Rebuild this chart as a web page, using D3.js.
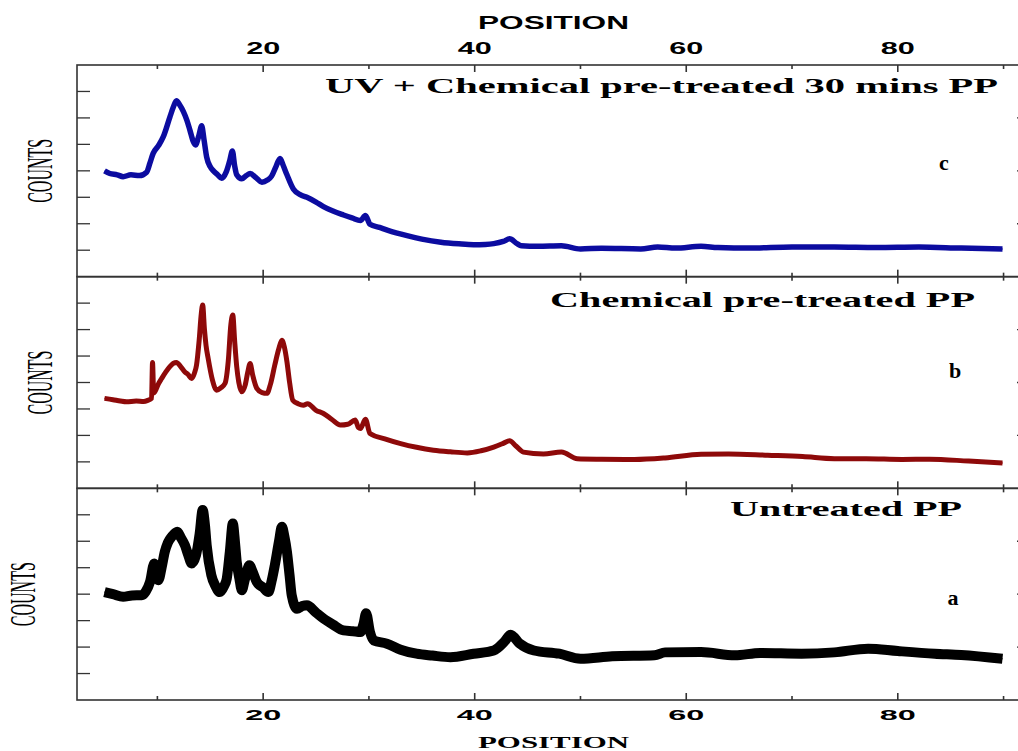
<!DOCTYPE html>
<html>
<head>
<meta charset="utf-8">
<script src="https://cdn.jsdelivr.net/npm/d3@7"></script>
<style>
  body { margin: 0; background: #fff; }
  svg { display: block; }
</style>
</head>
<body>
<div id="chart"></div>
<script>
// [2-theta position, counts]; counts in arbitrary units, 0-8 per panel
var seriesC = [[5.0, 4.0], [5.5, 3.9], [6.2, 3.85], [6.76, 3.78], [7.5, 3.85], [8.3, 3.82], [8.98, 3.95], [9.3, 4.3], [9.6, 4.66], [10.1, 4.95], [10.55, 5.28], [11.18, 6.03], [11.5, 6.4], [11.8, 6.65], [12.1, 6.5], [12.45, 6.25], [12.8, 5.9], [13.08, 5.53], [13.4, 5.1], [13.6, 4.98], [13.9, 5.3], [14.19, 5.7], [14.4, 5.2], [14.66, 4.52], [15.0, 4.15], [15.3, 4.0], [15.7, 3.85], [16.08, 3.72], [16.5, 3.95], [16.85, 4.4], [17.09, 4.75], [17.3, 4.2], [17.5, 3.85], [17.98, 3.7], [18.4, 3.82], [18.77, 3.9], [19.3, 3.75], [19.88, 3.57], [20.4, 3.65], [20.8, 3.8], [21.2, 4.15], [21.6, 4.47], [21.9, 4.2], [22.25, 3.85], [22.87, 3.3], [23.5, 3.1], [24.14, 3.0], [25.0, 2.82], [25.7, 2.65], [26.6, 2.48], [27.6, 2.33], [28.4, 2.22], [29.2, 2.12], [29.67, 2.31], [30.1, 1.98], [31.0, 1.86], [31.8, 1.75], [33.6, 1.55], [35.0, 1.42], [36.8, 1.3], [38.5, 1.24], [39.9, 1.21], [41.0, 1.22], [41.8, 1.25], [42.7, 1.33], [43.3, 1.43], [44.0, 1.25], [44.4, 1.17], [46.0, 1.15], [48.2, 1.17], [50, 1.05], [52, 1.07], [55.7, 1.05], [57.3, 1.12], [59, 1.08], [61.4, 1.15], [63, 1.1], [66, 1.08], [70, 1.12], [74, 1.12], [78, 1.1], [82, 1.12], [86, 1.08], [89.9, 1.05]];

var seriesB = [[5.0, 3.4], [5.8, 3.35], [6.5, 3.3], [7.07, 3.27], [8.0, 3.3], [8.7, 3.28], [9.12, 3.33], [9.45, 3.4], [9.54, 4.76], [9.65, 3.6], [9.76, 3.65], [10.1, 3.95], [10.4, 4.15], [10.8, 4.4], [11.18, 4.6], [11.5, 4.72], [11.8, 4.76], [12.2, 4.6], [12.6, 4.4], [12.9, 4.3], [13.24, 4.15], [13.5, 4.35], [13.7, 4.66], [13.95, 5.6], [14.15, 6.6], [14.28, 6.93], [14.45, 6.0], [14.6, 5.4], [14.8, 4.91], [15.2, 4.1], [15.6, 3.71], [16.0, 3.8], [16.4, 3.97], [16.7, 4.8], [16.95, 6.2], [17.13, 6.55], [17.3, 5.6], [17.5, 4.6], [17.7, 4.0], [17.98, 3.65], [18.3, 3.9], [18.55, 4.4], [18.77, 4.72], [19.0, 4.3], [19.4, 3.78], [19.9, 3.62], [20.35, 3.59], [20.7, 3.95], [21.1, 4.66], [21.5, 5.3], [21.77, 5.6], [22.0, 5.35], [22.25, 4.78], [22.5, 4.0], [22.8, 3.33], [23.3, 3.2], [23.8, 3.14], [24.2, 3.2], [25.0, 2.95], [25.7, 2.83], [26.5, 2.6], [27.3, 2.39], [28.0, 2.42], [28.7, 2.58], [29.0, 2.3], [29.2, 2.26], [29.67, 2.61], [30.1, 2.07], [31.5, 1.87], [33, 1.69], [34.5, 1.55], [36.1, 1.44], [37.7, 1.38], [39.3, 1.34], [40.6, 1.42], [41.8, 1.56], [42.7, 1.7], [43.3, 1.8], [43.9, 1.6], [44.6, 1.37], [46.5, 1.3], [48.2, 1.37], [49.7, 1.12], [52, 1.1], [55.1, 1.09], [58, 1.15], [61.4, 1.29], [64, 1.3], [67.7, 1.25], [71, 1.2], [74, 1.12], [77, 1.12], [80.4, 1.09], [83, 1.1], [86.7, 1.03], [89.9, 0.96]];

var seriesA = [[5.0, 4.08], [5.8, 4.0], [6.76, 3.9], [7.6, 3.95], [8.5, 3.96], [8.9, 4.1], [9.3, 4.46], [9.7, 5.16], [10.1, 4.53], [10.4, 5.0], [10.7, 5.6], [11.0, 5.95], [11.35, 6.17], [11.88, 6.36], [12.2, 6.15], [12.6, 5.85], [12.9, 5.5], [13.24, 5.16], [13.65, 5.47], [14.0, 6.3], [14.28, 7.18], [14.5, 6.6], [14.66, 5.85], [15.1, 4.72], [15.5, 4.3], [15.9, 4.08], [16.3, 4.3], [16.56, 4.59], [16.85, 5.6], [17.13, 6.67], [17.35, 5.9], [17.5, 5.22], [17.75, 4.6], [17.98, 4.15], [18.3, 4.6], [18.7, 5.09], [19.0, 4.85], [19.4, 4.46], [20.0, 4.25], [20.5, 4.08], [20.8, 4.5], [21.1, 5.09], [21.5, 6.0], [21.77, 6.55], [22.0, 6.2], [22.25, 5.6], [22.5, 4.7], [22.7, 3.96], [23.2, 3.45], [23.7, 3.55], [24.14, 3.58], [25.0, 3.3], [25.7, 3.08], [26.6, 2.85], [27.6, 2.63], [28.5, 2.6], [29.2, 2.57], [29.5, 2.9], [29.73, 3.28], [30.1, 2.57], [30.45, 2.25], [31.7, 2.13], [33, 1.9], [34.5, 1.75], [36, 1.68], [37.7, 1.62], [39.9, 1.75], [41.8, 1.87], [42.8, 2.2], [43.4, 2.47], [44.2, 2.15], [45.6, 1.87], [48, 1.75], [50, 1.56], [53, 1.65], [57, 1.69], [58, 1.8], [61.4, 1.81], [64.6, 1.69], [67, 1.78], [70.9, 1.75], [74, 1.8], [77.2, 1.94], [80, 1.85], [83.5, 1.75], [86, 1.7], [89.9, 1.56]];

var panelTitles = ['UV + Chemical pre-treated 30 mins PP', 'Chemical pre-treated PP', 'Untreated PP'];
var panelLetters = ['c', 'b', 'a'];
var xMajorTicks = [20, 40, 60, 80];
var xMinorTicks = [10, 30, 50, 70, 90];
var yTicks = [1, 2, 3, 4, 5, 6, 7];

var w = 1018,
    h = 751;

var padL = 77, padR = 1030, padT = 65, padB = 700;
var ph = (padB - padT) / 3;

var svg = d3.select('#chart').append('svg').attr('width', w).attr('height', h);

var x = d3.scaleLinear().domain([2.4, 92.5]).range([padL, padR]);

var panels = [
  {data: seriesC, color: '#0c0ca0', sw: 5.5, title: panelTitles[0], titleX: 325, titleY: 93, titleW: 673, letter: panelLetters[0], lx: 944, ly: 170, cx: 52},
  {data: seriesB, color: '#8e0a0a', sw: 5, title: panelTitles[1], titleX: 550, titleY: 307, titleW: 425, letter: panelLetters[1], lx: 955, ly: 378, cx: 52},
  {data: seriesA, color: '#000', sw: 10, title: panelTitles[2], titleX: 730, titleY: 516, titleW: 232, letter: panelLetters[2], lx: 953, ly: 605, cx: 35}
];

var axisColor = '#333';
var serif = '"Liberation Serif", "Times New Roman", serif',
    sans = '"Liberation Sans", Arial, sans-serif';

panels.forEach(function (p, i) {
  var y0 = padT + i * ph,
      y1 = y0 + ph;
  var y = d3.scaleLinear().domain([0, 8]).range([y1, y0]);

  var g = svg.append('g');

  // pattern: thick band for the noise, thin core line
  var line = d3.line()
    .x(function (d) { return x(d[0]); })
    .y(function (d) { return y(d[1]); })
    .curve(d3.curveMonotoneX);
  g.append('path')
    .datum(p.data)
    .attr('d', line)
    .attr('fill', 'none')
    .attr('stroke', p.color)
    .attr('stroke-width', p.sw)
    .attr('stroke-linejoin', 'round');
  g.append('path')
    .datum(p.data)
    .attr('d', line)
    .attr('fill', 'none')
    .attr('stroke', p.color)
    .attr('stroke-width', 1.5);

  // panel frame
  g.append('rect')
    .attr('x', padL).attr('y', y0)
    .attr('width', padR - padL).attr('height', ph)
    .attr('fill', 'none').attr('stroke', axisColor).attr('stroke-width', 1.6);

  // x ticks, top and bottom, pointing in
  var tk = g.append('g').attr('stroke', axisColor).attr('stroke-width', 1.6);
  xMajorTicks.forEach(function (t) {
    tk.append('line').attr('x1', x(t)).attr('x2', x(t)).attr('y1', y0).attr('y2', y0 + 7);
    tk.append('line').attr('x1', x(t)).attr('x2', x(t)).attr('y1', y1).attr('y2', y1 - 7);
  });
  xMinorTicks.forEach(function (t) {
    tk.append('line').attr('x1', x(t)).attr('x2', x(t)).attr('y1', y0).attr('y2', y0 + 4);
    tk.append('line').attr('x1', x(t)).attr('x2', x(t)).attr('y1', y1).attr('y2', y1 - 4);
  });

  // y ticks, left and right
  yTicks.forEach(function (t) {
    tk.append('line').attr('x1', padL).attr('x2', padL + 13).attr('y1', y(t)).attr('y2', y(t)).attr('stroke-width', 1.3);
    var len = t % 2 === 0 ? 13 : 5;
    tk.append('line').attr('x1', padR).attr('x2', padR - len).attr('y1', y(t)).attr('y2', y(t)).attr('stroke-width', 1.3);
  });

  // titles
  g.append('text')
    .attr('x', p.titleX).attr('y', p.titleY)
    .attr('textLength', p.titleW).attr('lengthAdjust', 'spacingAndGlyphs')
    .style('font-family', serif)
    .style('font-weight', 'bold').style('font-size', '21px')
    .text(p.title);

  g.append('text')
    .attr('x', p.lx).attr('y', p.ly)
    .attr('text-anchor', 'middle')
    .style('font-family', serif)
    .style('font-weight', 'bold').style('font-size', '22px')
    .text(p.letter);

  // COUNTS label
  var cy = (y0 + y1) / 2;
  g.append('text')
    .attr('transform', 'translate(' + p.cx + ',' + cy + ') rotate(-90)')
    .attr('x', -32)
    .attr('textLength', 64).attr('lengthAdjust', 'spacingAndGlyphs')
    .style('font-family', serif)
    .style('font-size', '36px')
    .text('COUNTS');
});

// tick labels top and bottom
xMajorTicks.forEach(function (t) {
  svg.append('text')
    .attr('x', x(t) - 17).attr('y', 54)
    .attr('textLength', 34).attr('lengthAdjust', 'spacingAndGlyphs')
    .style('font-family', sans)
    .style('font-weight', 'bold').style('font-size', '16px')
    .text(t);
  svg.append('text')
    .attr('x', x(t) - 18).attr('y', 720)
    .attr('textLength', 36).attr('lengthAdjust', 'spacingAndGlyphs')
    .style('font-family', sans)
    .style('font-weight', 'bold').style('font-size', '15px')
    .text(t);
});

svg.append('text')
  .attr('x', 478).attr('y', 29)
  .attr('textLength', 151).attr('lengthAdjust', 'spacingAndGlyphs')
  .style('font-family', sans)
  .style('font-weight', 'bold').style('font-size', '18px')
  .text('POSITION');

svg.append('text')
  .attr('x', 478).attr('y', 748)
  .attr('textLength', 151).attr('lengthAdjust', 'spacingAndGlyphs')
  .style('font-family', serif)
  .style('font-weight', 'bold').style('font-size', '16px')
  .text('POSITION');
</script>
</body>
</html>
